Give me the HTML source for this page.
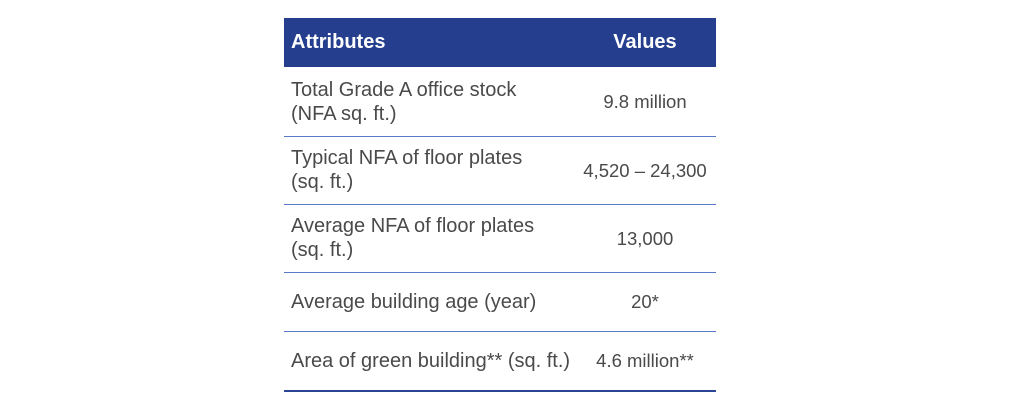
<!DOCTYPE html>
<html><head><meta charset="utf-8"><style>
body{margin:0;width:1024px;height:413px;background:#fff;position:relative;overflow:hidden;font-family:"Liberation Sans",sans-serif;}
.hdr{position:absolute;left:284px;top:18px;width:432px;height:49px;background:#253f8e;}
.h{position:absolute;top:31px;color:#fff;font-weight:bold;font-size:20px;}
.t{position:absolute;color:#4a4a4a;font-size:20px;line-height:24px;}
.v{position:absolute;left:567px;width:156px;text-align:center;color:#4a4a4a;font-size:18.5px;line-height:24px;}
.ln{position:absolute;left:284px;width:432px;height:1px;background:#5a78c8;}
</style></head><body>
<div class="hdr"></div>
<div class="h" style="left:291px">Attributes</div>
<div class="h" style="left:567px;width:156px;text-align:center">Values</div>

<div class="t" style="left:291px;top:78px">Total Grade A office stock<br>(NFA sq. ft.)</div>
<div class="v" style="top:90px">9.8 million</div>
<div class="ln" style="top:136px"></div>

<div class="t" style="left:291px;top:146px">Typical NFA of floor plates<br>(sq. ft.)</div>
<div class="v" style="top:159px">4,520 – 24,300</div>
<div class="ln" style="top:204px"></div>

<div class="t" style="left:291px;top:214px">Average NFA of floor plates<br>(sq. ft.)</div>
<div class="v" style="top:227px">13,000</div>
<div class="ln" style="top:272px"></div>

<div class="t" style="left:291px;top:290px">Average building age (year)</div>
<div class="v" style="top:290px">20*</div>
<div class="ln" style="top:331px"></div>

<div class="t" style="left:291px;top:349px">Area of green building** (sq. ft.)</div>
<div class="v" style="top:349px">4.6 million**</div>
<div class="ln" style="top:390px;height:2px;background:#2a4593"></div>
</body></html>
